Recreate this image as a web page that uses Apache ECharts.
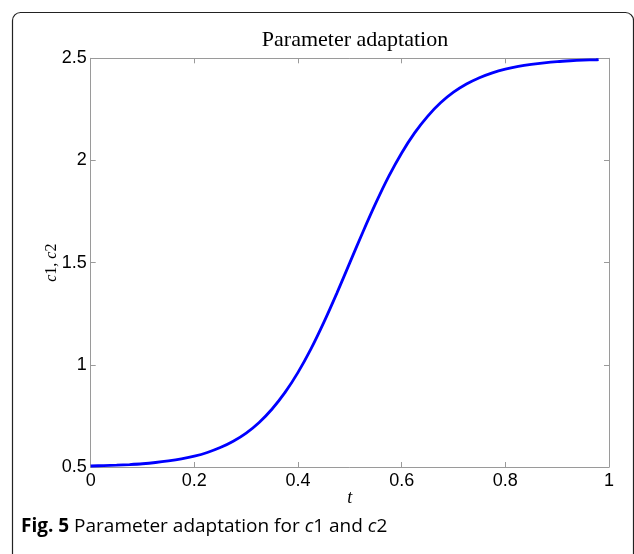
<!DOCTYPE html>
<html>
<head>
<meta charset="utf-8">
<script src="https://cdn.jsdelivr.net/npm/echarts@6/dist/echarts.min.js"></script>
<style>
  html, body { margin: 0; padding: 0; background: #ffffff; }
  #chart { width: 634px; height: 554px; }
</style>
</head>
<body>
<div id="chart"></div>
<script>
// Adaptation time t and the adapted gains c1, c2 (same curve for both)
const tValues = [0, 0.025, 0.05, 0.075, 0.1, 0.125, 0.15, 0.175, 0.2, 0.225,
  0.25, 0.275, 0.3, 0.325, 0.35, 0.375, 0.4, 0.425, 0.45, 0.475,
  0.5, 0.525, 0.55, 0.575, 0.6, 0.625, 0.65, 0.675, 0.7, 0.725,
  0.75, 0.775, 0.8, 0.825, 0.85, 0.875, 0.9, 0.925, 0.95, 0.975, 0.98];
const cValues = [0.505, 0.507, 0.509, 0.512, 0.516, 0.522, 0.530, 0.540, 0.553, 0.571,
  0.595, 0.626, 0.666, 0.718, 0.784, 0.865, 0.963, 1.078, 1.209, 1.351,
  1.500, 1.649, 1.791, 1.922, 2.037, 2.135, 2.216, 2.282, 2.334, 2.374,
  2.405, 2.429, 2.447, 2.460, 2.470, 2.478, 2.484, 2.488, 2.491, 2.493, 2.494];

const xTicks = { min: 0, max: 1, interval: 0.2 };
const yTicks = { min: 0.5, max: 2.5, interval: 0.5 };

const titleText = 'Parameter adaptation';
const xName = 't';
const yName = '{i|c}1, {i|c}2';
const captionText = '{b|Fig. 5} Parameter adaptation for {i|c}1 and {i|c}2';

const serif = 'Liberation Serif, Times New Roman, serif';
const sans = 'Liberation Sans, Arial, sans-serif';
const captionFont = 'Open Sans, sans-serif';
const axisGray = '#9a9a9a';
const tickFont = { color: '#000', fontFamily: sans, fontSize: 18 };

const chart = echarts.init(document.getElementById('chart'), null, { renderer: 'canvas' });

const frameAxis = (extra) => Object.assign({
  axisLine: { show: true, onZero: false, lineStyle: { color: axisGray, width: 1 } },
  axisTick: { show: true, inside: true, length: 5, lineStyle: { color: axisGray } },
  splitLine: { show: false }
}, extra);

chart.setOption({
  backgroundColor: '#ffffff',
  animation: false,
  title: [
    {
      text: titleText,
      left: 350, top: 24, textAlign: 'center',
      textStyle: { fontFamily: serif, fontWeight: 'normal', fontSize: 22, color: '#000' }
    },
    {
      text: captionText,
      left: 16, top: 512,
      textStyle: {
        fontFamily: captionFont, fontWeight: 'normal', fontSize: 19, color: '#000',
        rich: {
          b: { fontFamily: captionFont, fontWeight: 'bold', fontSize: 19, color: '#000' },
          i: { fontFamily: captionFont, fontStyle: 'italic', fontSize: 19, color: '#000' }
        }
      }
    }
  ],
  graphic: [
    {
      type: 'rect', silent: true, z: -1,
      shape: { x: 12.5, y: 12.5, width: 621, height: 700, r: 8 },
      style: { fill: 'none', stroke: '#222', lineWidth: 1.2 }
    }
  ],
  grid: { left: 90.7, right: 25, top: 58.3, bottom: 87, containLabel: false },
  xAxis: [
    frameAxis({
      type: 'value', position: 'bottom',
      min: xTicks.min, max: xTicks.max, interval: xTicks.interval,
      axisLabel: Object.assign({ margin: 5, formatter: v => String(+v.toFixed(1)) }, tickFont),
      name: xName, nameLocation: 'middle', nameGap: 22, nameMoveOverlap: false,
      nameTextStyle: { fontFamily: serif, fontStyle: 'italic', fontSize: 18, color: '#000' }
    }),
    frameAxis({
      type: 'value', position: 'top',
      min: xTicks.min, max: xTicks.max, interval: xTicks.interval,
      axisLabel: { show: false }
    })
  ],
  yAxis: [
    frameAxis({
      type: 'value', position: 'left',
      min: yTicks.min, max: yTicks.max, interval: yTicks.interval,
      axisLabel: Object.assign({ margin: 4, formatter: v => String(+v.toFixed(1)) }, tickFont),
      name: yName, nameLocation: 'middle', nameGap: 31, nameRotate: 90, nameMoveOverlap: false,
      nameTextStyle: {
        fontFamily: serif, fontSize: 16, color: '#000',
        rich: { i: { fontFamily: serif, fontStyle: 'italic', fontSize: 16, color: '#000' } }
      }
    }),
    frameAxis({
      type: 'value', position: 'right',
      min: yTicks.min, max: yTicks.max, interval: yTicks.interval,
      axisLabel: { show: false }
    })
  ],
  series: [
    {
      type: 'line',
      xAxisIndex: 0, yAxisIndex: 0,
      data: tValues.map((t, i) => [t, cValues[i]]),
      smooth: 0.3,
      showSymbol: false,
      lineStyle: { color: '#0000ff', width: 2.8 },
      clip: false
    }
  ]
});
</script>
</body>
</html>
